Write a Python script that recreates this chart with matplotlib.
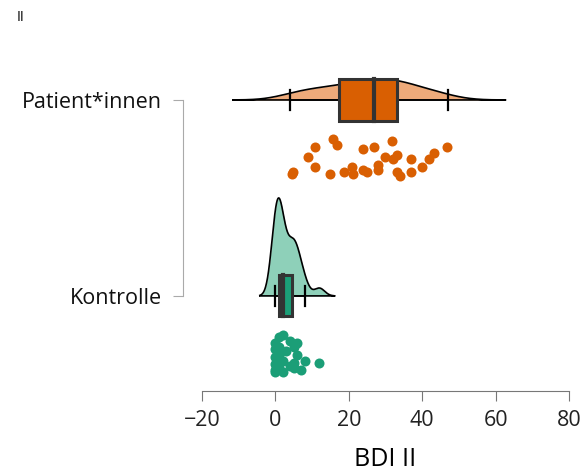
import numpy as np
import matplotlib
matplotlib.use("Agg")
import matplotlib.pyplot as plt

plt.rcParams['font.family'] = ['Open Sans', 'DejaVu Sans']

# groups (top to bottom)
groups = ["Patient*innen", "Kontrolle"]
group_pos = [2, 1]

# raw scores
patient_scores = [4.4, 4.9, 10.8, 8.8, 10.8, 15.8, 16.9, 14.9, 18.7, 20.8,
                  21.1, 24.0, 23.8, 24.9, 26.9, 27.9, 27.9, 29.9, 31.9, 32.0,
                  33.0, 33.0, 33.9, 36.9, 36.9, 39.9, 41.9, 43.1, 46.8]
patient_jitter = [-0.38, -0.37, -0.24, -0.29, -0.34, -0.20, -0.23, -0.38, -0.37, -0.34,
                  -0.38, -0.25, -0.36, -0.37, -0.24, -0.33, -0.36, -0.29, -0.21, -0.30,
                  -0.28, -0.37, -0.39, -0.30, -0.37, -0.34, -0.30, -0.27, -0.24]

control_scores = [0, 0, 0, 0, 0, 0, 1, 1, 1, 1, 1, 2, 2, 2, 3, 4, 4,
                  5, 5, 5, 6, 6, 7, 8, 12]
control_jitter = [-0.27, -0.31, -0.35, -0.38, -0.24, -0.39, -0.21, -0.30, -0.34, -0.37,
                  -0.26, -0.20, -0.33, -0.39, -0.28, -0.23, -0.36,
                  -0.26, -0.34, -0.37, -0.24, -0.30, -0.38, -0.33, -0.34]

# box statistics: q1, median, q3, whisker low, whisker high
patient_box = [17.3, 26.9, 33.1, 4.0, 47.0]
control_box = [1.0, 2.0, 4.5, 0.0, 8.0]

dark_cols = ["#D95F02", "#1B9E77"]
light_cols = ["#EDAA7A", "#8ED0B9"]
edge = "#333333"


def kde(vals):
    # gaussian kde, silverman bandwidth, cut at 3 bw
    vals = np.asarray(vals, float)
    iqr = np.subtract(*np.percentile(vals, [75, 25]))
    bw = 0.9 * min(vals.std(ddof=1), iqr / 1.34) * len(vals) ** (-0.2)
    grid = np.linspace(vals.min() - 3 * bw, vals.max() + 3 * bw, 400)
    dens = np.exp(-0.5 * ((grid[:, None] - vals[None, :]) / bw) ** 2).sum(1)
    dens /= len(vals) * bw * np.sqrt(2 * np.pi)
    return grid, dens


fig = plt.figure(figsize=(5.83, 4.71), dpi=100)
ax = fig.add_axes([0.3465, 0.17, 0.6295, 0.7634])

curves = [kde(patient_scores), kde(control_scores)]
scale = 0.5 / max(d.max() for _, d in curves)

all_scores = [patient_scores, control_scores]
all_jitter = [patient_jitter, control_jitter]
boxes = [patient_box, control_box]

for i, y0 in enumerate(group_pos):
    grid, dens = curves[i]
    h = y0 + dens * scale
    ax.fill_between(grid, y0, h, color=light_cols[i], zorder=1, lw=0)
    ax.plot(np.r_[grid, grid[::-1][:1], grid[:1]], np.r_[h, y0, y0],
            color="black", lw=1.2, zorder=2)

    q1, med, q3, wlo, whi = boxes[i]
    ax.plot([wlo, q1], [y0, y0], color="black", lw=1.2, zorder=2)
    ax.plot([q3, whi], [y0, y0], color="black", lw=1.2, zorder=2)
    for w in (wlo, whi):
        ax.plot([w, w], [y0 - 0.05, y0 + 0.05], color="black", lw=1.6, zorder=2)
    bh = 0.105
    ax.add_patch(plt.Rectangle((q1, y0 - bh), q3 - q1, 2 * bh,
                               facecolor=dark_cols[i], edgecolor=edge,
                               lw=2.2, zorder=3))
    ax.plot([med, med], [y0 - bh, y0 + bh], color=edge, lw=3.0, zorder=4)

    ax.scatter(all_scores[i], y0 + np.array(all_jitter[i]), s=52,
               color=dark_cols[i], lw=0, zorder=3)

ax.set_xlim(-20, 80)
ax.set_ylim(0.515, 2.35)
ax.set_xticks([-20, 0, 20, 40, 60, 80])
ax.set_yticks(group_pos)
ax.set_yticklabels(groups)

for s in ["top", "right"]:
    ax.spines[s].set_visible(False)
ax.spines["left"].set_position(("outward", 13.7))
ax.spines["left"].set_bounds(1, 2)
ax.spines["left"].set_color("#aaaaaa")
ax.spines["bottom"].set_color("#777777")
ax.tick_params(axis="y", length=7, color="#aaaaaa", labelsize=15.5, pad=8,
               labelcolor="#111111")
ax.tick_params(axis="x", length=7, color="#777777", labelsize=15.5, pad=7,
               labelcolor="#222222")
ax.set_xlabel("BDI II", fontsize=18, labelpad=11)

fig.text(0.028, 0.963, "II", fontsize=10, va="center")

fig.savefig("out.png", dpi=100)
